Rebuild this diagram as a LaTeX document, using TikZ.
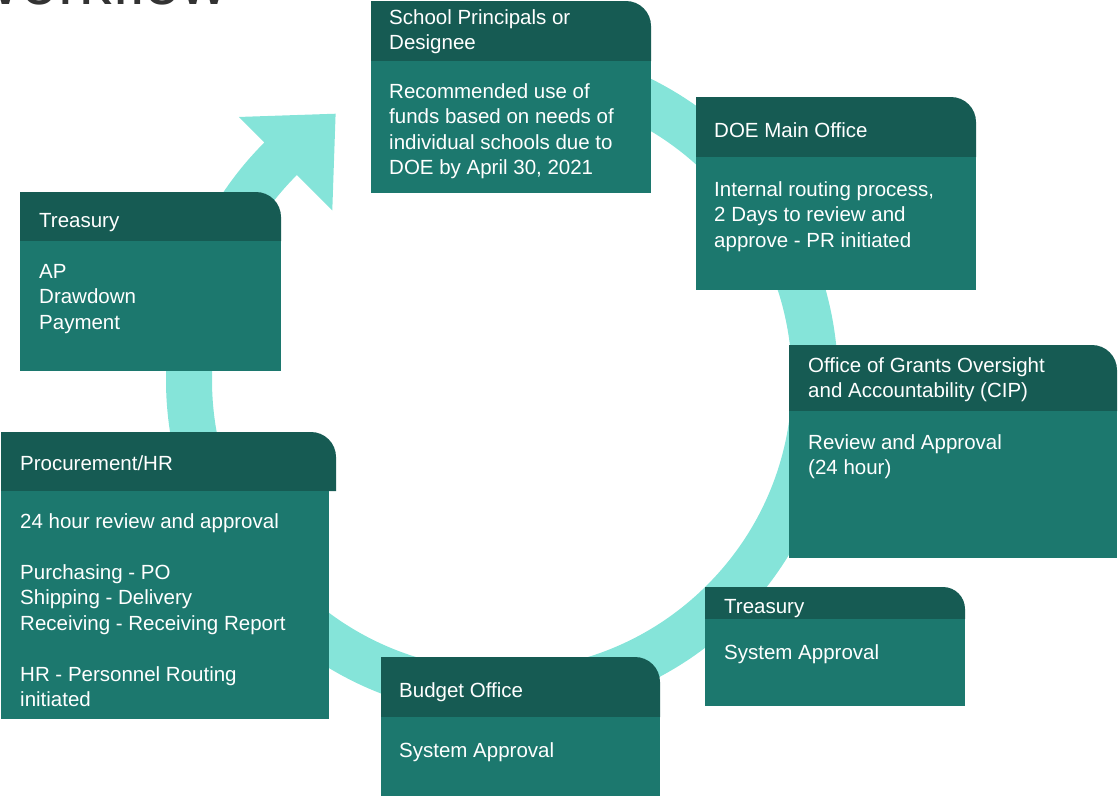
\documentclass[tikz,border=0pt]{standalone}
\usepackage{fontspec}
\setmainfont{Liberation Sans}
\definecolor{headteal}{HTML}{165B53}
\definecolor{bodyteal}{HTML}{1C786E}
\definecolor{ringteal}{HTML}{85E4D9}
\definecolor{titlegray}{HTML}{333333}
\tikzset{
    headfill/.style={fill=headteal},
    bodyfill/.style={fill=bodyteal},
    cardtext/.style={anchor=north west, inner sep=0pt, align=left, text=white,
        font=\fontsize{20.5}{25.5}\selectfont, execute at begin node=\strut},
}
\begin{document}
\begin{tikzpicture}[x=1pt, y=-1pt]
    \useasboundingbox (0,0) rectangle (1119,796);
    \node[anchor=base east, inner sep=0pt, text=titlegray, font=\fontsize{65}{78}\selectfont] (title) at (228,4) {Workflow};
    % ring with arrow head
    \coordinate (hub) at (502,380);
    \fill[ringteal] ([shift={(-100:336)}]hub) arc[start angle=-100, end angle=225, radius=336]
        -- ([shift={(225:372)}]hub) -- ([shift={(238:314)}]hub) -- ([shift={(225:240)}]hub)
        -- ([shift={(225:290)}]hub) arc[start angle=225, end angle=-100, radius=290] -- cycle;
    % school principals
    \fill[headfill] (371,61) -- (371,1) -- (626,1) arc[start angle=-90, end angle=0, radius=25] -- (651,61) -- cycle;
    \fill[bodyfill] (371,61) rectangle (651,193);
    \node[cardtext] (schoolhead) at (389,9) {School Principals or\\Designee};
    \node[cardtext] (schoolbody) at (389,83) {Recommended use of\\funds based on needs of\\individual schools due to\\DOE by April 30, 2021};
    % doe main office
    \fill[headfill] (696,157) -- (696,97) -- (951,97) arc[start angle=-90, end angle=0, radius=25] -- (976,157) -- cycle;
    \fill[bodyfill] (696,157) rectangle (976,290);
    \node[cardtext] (doehead) at (714,119) {DOE Main Office};
    \node[cardtext] (doebody) at (714,181) {Internal routing process,\\2 Days to review and\\approve - PR initiated};
    % grants oversight
    \fill[headfill] (789,411) -- (789,345) -- (1092,345) arc[start angle=-90, end angle=0, radius=25] -- (1117,411) -- cycle;
    \fill[bodyfill] (789,411) rectangle (1117,558);
    \node[cardtext] (ogoahead) at (808,357) {Office of Grants Oversight\\and Accountability (CIP)};
    \node[cardtext] (ogoabody) at (808,434) {Review and Approval\\(24 hour)};
    % treasury, system approval
    \fill[headfill] (705,619) -- (705,587) -- (943,587) arc[start angle=-90, end angle=0, radius=22] -- (965,619) -- cycle;
    \fill[bodyfill] (705,619) rectangle (965,706);
    \node[cardtext] (sysheadA) at (724,595) {Treasury};
    \node[cardtext] (sysbodyA) at (724,641) {System Approval};
    % budget office
    \fill[headfill] (381,717) -- (381,657) -- (635,657) arc[start angle=-90, end angle=0, radius=25] -- (660,717) -- cycle;
    \fill[bodyfill] (381,717) rectangle (660,796);
    \node[cardtext] (budgethead) at (399,679) {Budget Office};
    \node[cardtext] (budgetbody) at (399,739) {System Approval};
    % procurement
    \fill[headfill] (1,491) -- (1,432) -- (311,432) arc[start angle=-90, end angle=0, radius=25] -- (336,491) -- cycle;
    \fill[bodyfill] (1,491) rectangle (329,719);
    \node[cardtext] (prochead) at (20,452) {Procurement/HR};
    \node[cardtext] (procbody) at (20,513) {24 hour review and approval\\[25.5pt]Purchasing - PO\\Shipping - Delivery\\Receiving - Receiving Report\\[25.5pt]HR - Personnel Routing\\initiated};
    % treasury, payment
    \fill[headfill] (20,241) -- (20,192) -- (256,192) arc[start angle=-90, end angle=0, radius=25] -- (281,241) -- cycle;
    \fill[bodyfill] (20,241) rectangle (281,371);
    \node[cardtext] (payhead) at (39,209) {Treasury};
    \node[cardtext] (paybody) at (39,264) {AP\\Drawdown\\Payment};
\end{tikzpicture}
\end{document}
